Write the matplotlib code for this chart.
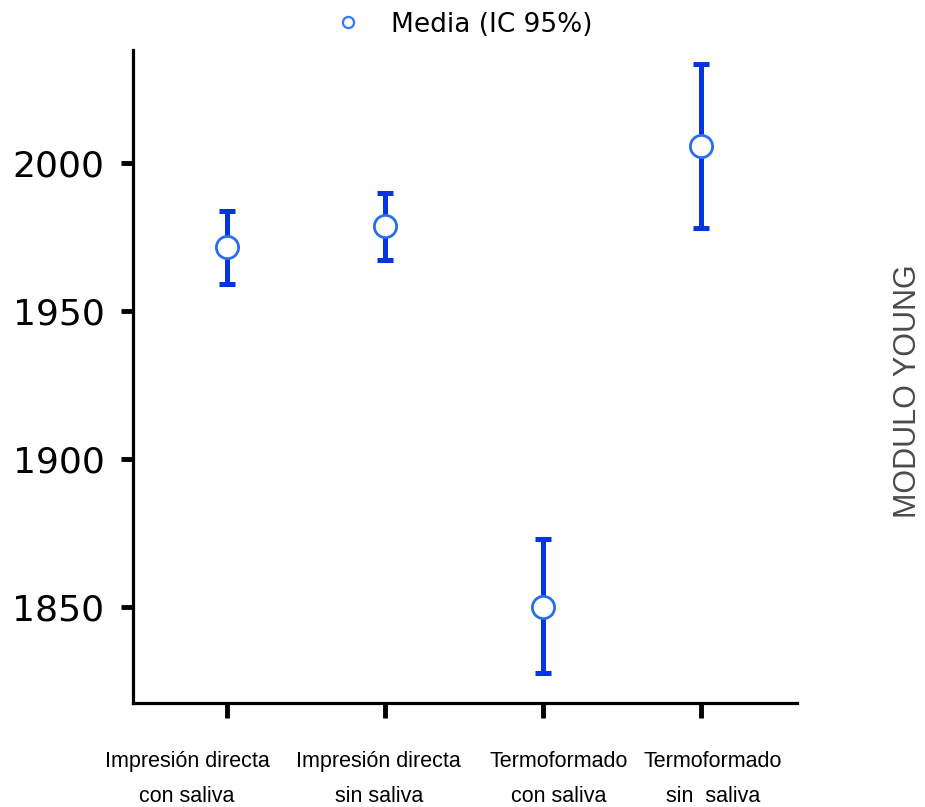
import matplotlib
matplotlib.use("Agg")
import matplotlib.pyplot as plt
from matplotlib.transforms import ScaledTranslation

# datos
grupos = ["Impresión directa\ncon saliva", "Impresión directa\nsin saliva",
          "Termoformado\ncon saliva", "Termoformado\nsin  saliva"]
media = [1971.6, 1978.7, 1850.0, 2005.7]
ic_inf = [1959.1, 1967.2, 1827.7, 1978.0]
ic_sup = [1983.8, 1989.9, 1873.0, 2033.4]

plt.rcParams['font.family'] = ['Liberation Sans', 'DejaVu Sans']

fig = plt.figure(figsize=(9.25, 8.07), dpi=100)
ax = fig.add_axes([0.1438, 0.1289, 0.7178, 0.809])

x = list(range(1, len(grupos) + 1))
err_low = [m - lo for m, lo in zip(media, ic_inf)]
err_up = [hi - m for m, hi in zip(media, ic_sup)]

azul = '#0535e0'
ax.errorbar(x, media, yerr=[err_low, err_up], fmt='none', ecolor=azul,
            elinewidth=3.6, capsize=6, capthick=3.6, zorder=2)
ax.plot(x, media, 'o', ms=16, mfc='white', mec='#2a6cf0', mew=2, zorder=3)

# legenda
h, = ax.plot([], [], 'o', ms=8, mfc='white', mec='#3377ff', mew=1.6,
             linestyle='none')
leg = ax.legend([h], ['Media (IC 95%)'], loc='lower center', bbox_to_anchor=(0.488, 0.995),
                frameon=False, handletextpad=0.6, borderaxespad=0.2,
                prop={'family': 'DejaVu Sans', 'size': 19})

ax.set_xlim(0.405, 4.61)
ax.set_ylim(1817.6, 2038.2)
ax.set_yticks([1850, 1900, 1950, 2000])
ax.set_yticklabels(['1850', '1900', '1950', '2000'], family='DejaVu Sans', fontsize=26)
ax.set_xticks(x)
ax.set_xticklabels(grupos, fontsize=15.5, linespacing=1.9)

for s in ['top', 'right']:
    ax.spines[s].set_visible(False)
for s in ['left', 'bottom']:
    ax.spines[s].set_linewidth(2.3)

ax.tick_params(axis='y', length=8.5, width=3.5, pad=12)
ax.tick_params(axis='x', length=11, width=3.5, pad=23.5)

# desplazamiento de las etiquetas del eje x
offsets = [-0.40, -0.06, 0.16, 0.12]
for lbl, dx in zip(ax.get_xticklabels(), offsets):
    lbl.set_transform(lbl.get_transform() + ScaledTranslation(dx, 0, fig.dpi_scale_trans))

fig.text(0.982, 0.5155, 'MODULO YOUNG', rotation=90, ha='center', va='center',
         fontsize=22, color='#4a4a4a')

fig.savefig('out.png', dpi=100)
